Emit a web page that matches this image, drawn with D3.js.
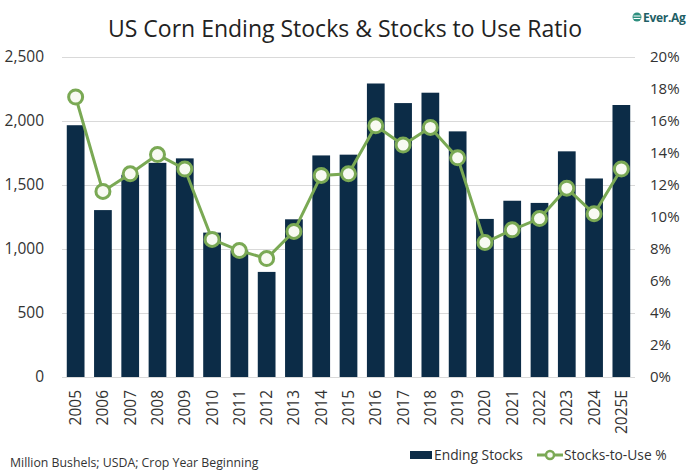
<!DOCTYPE html>
<html>
<head>
<meta charset="utf-8">
<script src="https://cdn.jsdelivr.net/npm/d3@7"></script>
<style>
  html, body { margin: 0; padding: 0; background: #fff; }
  svg { display: block; font-family: "Open Sans", "DejaVu Sans", sans-serif; }
</style>
</head>
<body>
<svg id="chart" width="693" height="470"></svg>
<script>
const years = ["2005","2006","2007","2008","2009","2010","2011","2012","2013","2014","2015","2016","2017","2018","2019","2020","2021","2022","2023","2024","2025E"];
const endingStocks = [1967,1304,1580,1673,1708,1128,989,821,1232,1731,1737,2293,2140,2221,1919,1235,1377,1360,1763,1551,2125];
const stocksToUse = [17.5,11.6,12.7,13.9,13.0,8.6,7.9,7.4,9.1,12.6,12.7,15.7,14.5,15.6,13.7,8.4,9.2,9.9,11.8,10.2,13.0];
const leftTicks = [0,500,1000,1500,2000,2500];
const rightTicks = [0,2,4,6,8,10,12,14,16,18,20];

const barColor = "#0c2c47";
const lineColor = "#7aa954";
const textColor = "#333";

const svg = d3.select("#chart");
const plot = {left: 62, right: 635, top: 57, bottom: 377};

const x = d3.scaleBand().domain(years).range([plot.left, plot.right]).paddingInner(0.35).paddingOuter(0.175);
const yL = d3.scaleLinear().domain([0, 2500]).range([plot.bottom, plot.top]);
const yR = d3.scaleLinear().domain([0, 20]).range([plot.bottom, plot.top]);

// title
svg.append("text").attr("x", 345).attr("y", 37).attr("text-anchor", "middle")
  .attr("font-size", 23).attr("fill", "#222").text("US Corn Ending Stocks & Stocks to Use Ratio");

// logo
const logo = svg.append("g").attr("transform", "translate(633,17)");
logo.append("circle").attr("cx", 4).attr("cy", 0).attr("r", 4.5).attr("fill", "#2f8f7f");
logo.append("path").attr("d", "M0.5,-1 H7.5 M0.5,1.5 H7.5").attr("stroke", "#fff").attr("stroke-width", 1);
logo.append("text").attr("x", 10).attr("y", 4.5).attr("font-size", 12).attr("font-weight", 700)
  .attr("fill", "#1f5f66").attr("letter-spacing", -0.3).text("Ever.Ag");

// gridlines
svg.append("g").selectAll("line").data(leftTicks.filter(d => d > 0)).join("line")
  .attr("x1", plot.left).attr("x2", plot.right)
  .attr("y1", d => yL(d) + 0.5).attr("y2", d => yL(d) + 0.5)
  .attr("stroke", "#d9d9d9").attr("stroke-width", 1);

// left axis
const axL = svg.append("g").attr("transform", `translate(${plot.left},0)`)
  .call(d3.axisLeft(yL).tickValues(leftTicks).tickSize(0).tickPadding(18).tickFormat(d3.format(",")));
axL.select(".domain").remove();
axL.selectAll("text").attr("font-size", 15.5).attr("fill", textColor).attr("font-family", "Open Sans, sans-serif");

// right axis
const axR = svg.append("g").attr("transform", `translate(${plot.right},0)`)
  .call(d3.axisRight(yR).tickValues(rightTicks).tickSize(0).tickPadding(15).tickFormat(d => d + "%"));
axR.select(".domain").remove();
axR.selectAll("text").attr("font-size", 15).attr("fill", textColor).attr("font-family", "Open Sans, sans-serif");

// bars
svg.append("g").selectAll("rect").data(years).join("rect")
  .attr("x", d => x(d)).attr("width", x.bandwidth())
  .attr("y", (d, i) => yL(endingStocks[i]))
  .attr("height", (d, i) => yL(0) - yL(endingStocks[i]))
  .attr("fill", barColor);

// baseline
svg.append("line").attr("x1", plot.left).attr("x2", plot.right)
  .attr("y1", plot.bottom + 0.5).attr("y2", plot.bottom + 0.5).attr("stroke", "#d9d9d9");

// x axis
const axX = svg.append("g").attr("transform", `translate(0,${plot.bottom})`)
  .call(d3.axisBottom(x).tickSize(0).tickPadding(0));
axX.select(".domain").remove();
axX.selectAll("text")
  .attr("font-size", 15.5).attr("fill", textColor).attr("font-family", "Open Sans, sans-serif")
  .attr("text-anchor", "end").attr("dy", "0.35em")
  .attr("transform", "translate(0,13) rotate(-90)")
  .attr("x", 0).attr("y", 0);

// line
const cx = (d, i) => x(years[i]) + x.bandwidth() / 2;
const line = d3.line().x((d, i) => x(years[i]) + x.bandwidth() / 2).y(d => yR(d));
svg.append("path").datum(stocksToUse).attr("d", line)
  .attr("fill", "none").attr("stroke", lineColor).attr("stroke-width", 3);
svg.append("g").selectAll("circle").data(stocksToUse).join("circle")
  .attr("cx", cx).attr("cy", d => yR(d)).attr("r", 7)
  .attr("fill", "#f8faf2").attr("stroke", lineColor).attr("stroke-width", 3);

// legend
const lg = svg.append("g");
lg.append("rect").attr("x", 410).attr("y", 451).attr("width", 22).attr("height", 8).attr("fill", barColor);
lg.append("text").attr("x", 434).attr("y", 460).attr("font-size", 13.8).attr("fill", textColor).text("Ending Stocks");
lg.append("line").attr("x1", 537).attr("x2", 563).attr("y1", 455).attr("y2", 455).attr("stroke", lineColor).attr("stroke-width", 3);
lg.append("circle").attr("cx", 550).attr("cy", 455).attr("r", 4).attr("fill", "#f8faf2").attr("stroke", lineColor).attr("stroke-width", 2.5);
lg.append("text").attr("x", 564).attr("y", 460).attr("font-size", 13.8).attr("fill", textColor).text("Stocks-to-Use %");

// footnote
svg.append("text").attr("x", 10).attr("y", 467).attr("font-size", 12.3).attr("fill", textColor)
  .text("Million Bushels; USDA; Crop Year Beginning");
</script>
</body>
</html>
